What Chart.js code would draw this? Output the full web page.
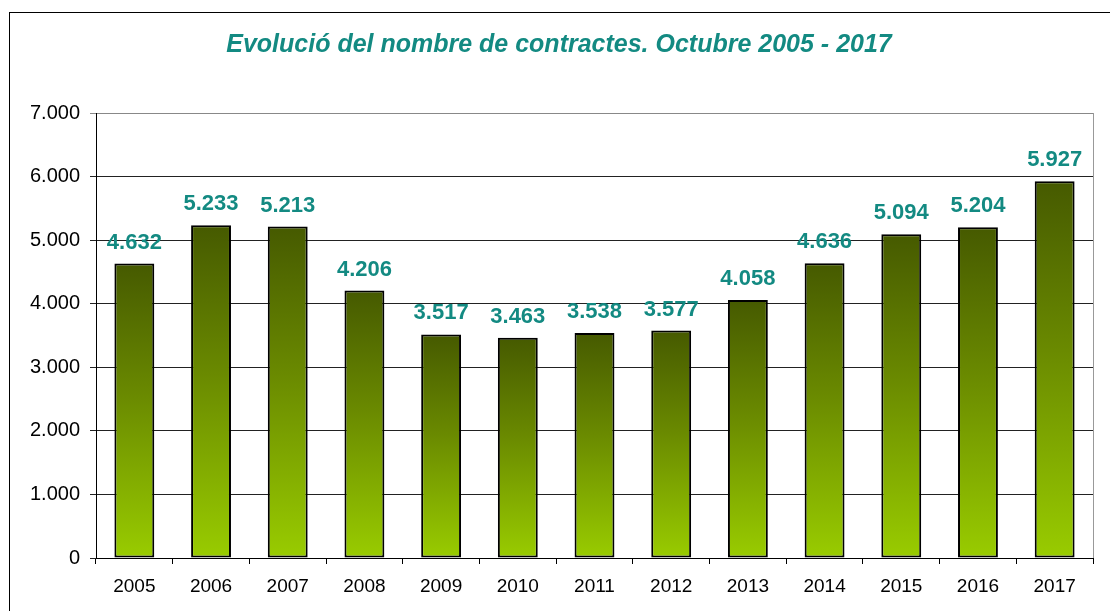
<!DOCTYPE html>
<html>
<head>
<meta charset="utf-8">
<script src="https://cdn.jsdelivr.net/npm/chart.js@4"></script>
<style>
  html, body { margin: 0; padding: 0; background: #fff; }
  #wrap { width: 1110px; height: 611px; }
</style>
</head>
<body>
<div id="wrap"><canvas id="contractsChart" width="1110" height="611"></canvas></div>
<script>
/* Dades ---------------------------------------------------------------- */
const years = ['2005', '2006', '2007', '2008', '2009', '2010', '2011', '2012', '2013', '2014', '2015', '2016', '2017'];
const contracts = [4632, 5233, 5213, 4206, 3517, 3463, 3538, 3577, 4058, 4636, 5094, 5204, 5927];
const yTicks = [0, 1000, 2000, 3000, 4000, 5000, 6000, 7000];
const chartTitle = 'Evolució del nombre de contractes. Octubre 2005 - 2017';

const TEAL = '#138a82';
const FONT = '"Liberation Sans", Arial, sans-serif';

// format 4632 -> 4.632
const fmt = (n) => String(n).replace(/\B(?=(\d{3})+(?!\d))/g, '.');

// degradat vertical per a cada barra (fosc a dalt, llima a baix)
function barGradient(c) {
  const chart = c.chart;
  const y = chart.scales.y;
  if (!y || c.raw == null) return '#6b8a00';
  const top = y.getPixelForValue(c.raw);
  const bottom = y.getPixelForValue(0);
  if (!isFinite(top) || !isFinite(bottom) || top === bottom) return '#6b8a00';
  const g = chart.ctx.createLinearGradient(0, top, 0, bottom);
  g.addColorStop(0, '#465a00');
  g.addColorStop(0.45, '#6a8a00');
  g.addColorStop(1, '#99cc00');
  return g;
}

/* Plugins --------------------------------------------------------------- */
const frame = {
  id: 'frame',
  beforeDraw(chart) {
    const { ctx, chartArea } = chart;
    ctx.save();
    ctx.strokeStyle = '#000';
    ctx.lineWidth = 1;
    ctx.strokeRect(9.5, 12.5, 1200, 700);
    // vora dreta de l'àrea de dibuix
    ctx.strokeStyle = '#999';
    ctx.beginPath();
    ctx.moveTo(Math.round(chartArea.right) + 0.5, chartArea.top);
    ctx.lineTo(Math.round(chartArea.right) + 0.5, chartArea.bottom);
    ctx.stroke();
    // títol
    ctx.fillStyle = TEAL;
    ctx.font = 'italic bold 25px ' + FONT;
    ctx.textAlign = 'center';
    ctx.textBaseline = 'middle';
    ctx.fillText(chartTitle, 559, 45);
    ctx.restore();
  }
};

const valueLabels = {
  id: 'valueLabels',
  afterDatasetsDraw(chart) {
    const { ctx } = chart;
    const meta = chart.getDatasetMeta(0);
    ctx.save();
    ctx.fillStyle = TEAL;
    ctx.font = 'bold 22px ' + FONT;
    ctx.textAlign = 'center';
    ctx.textBaseline = 'bottom';
    meta.data.forEach((bar, i) => {
      ctx.fillText(fmt(contracts[i]), bar.x, bar.y - 10);
    });
    ctx.restore();
  }
};

/* Gràfic ---------------------------------------------------------------- */
new Chart(document.getElementById('contractsChart'), {
  type: 'bar',
  data: {
    labels: years,
    datasets: [{
      data: contracts,
      backgroundColor: barGradient,
      borderColor: '#000',
      borderWidth: 2,
      borderSkipped: false,
      categoryPercentage: 1,
      barPercentage: 0.52,
    }],
  },
  options: {
    responsive: false,
    animation: false,
    layout: { padding: { top: 113, right: 17, left: 0, bottom: 0 } },
    plugins: {
      legend: { display: false },
      title: { display: false },
      tooltip: { enabled: false },
    },
    scales: {
      x: {
        grid: {
          offset: true,
          drawOnChartArea: false,
          tickLength: 6,
          color: '#000',
        },
        border: { color: '#000', width: 1 },
        ticks: {
          color: '#000',
          padding: 11,
          maxRotation: 0,
          font: { family: FONT, size: 19 },
        },
        afterFit: (s) => { s.height = 53; },
      },
      y: {
        min: 0,
        max: 7000,
        afterBuildTicks: (s) => { s.ticks = yTicks.map((v) => ({ value: v })); },
        grid: {
          color: (c) => (c.tick && c.tick.value === 7000 ? '#888' : '#222'),
          tickLength: 6,
        },
        border: { color: '#000', width: 1 },
        ticks: {
          color: '#000',
          padding: 10,
          font: { family: FONT, size: 20 },
          callback: (v) => fmt(v),
        },
        afterFit: (s) => { s.width = 96; },
      },
    },
  },
  plugins: [frame, valueLabels],
});
</script>
</body>
</html>
